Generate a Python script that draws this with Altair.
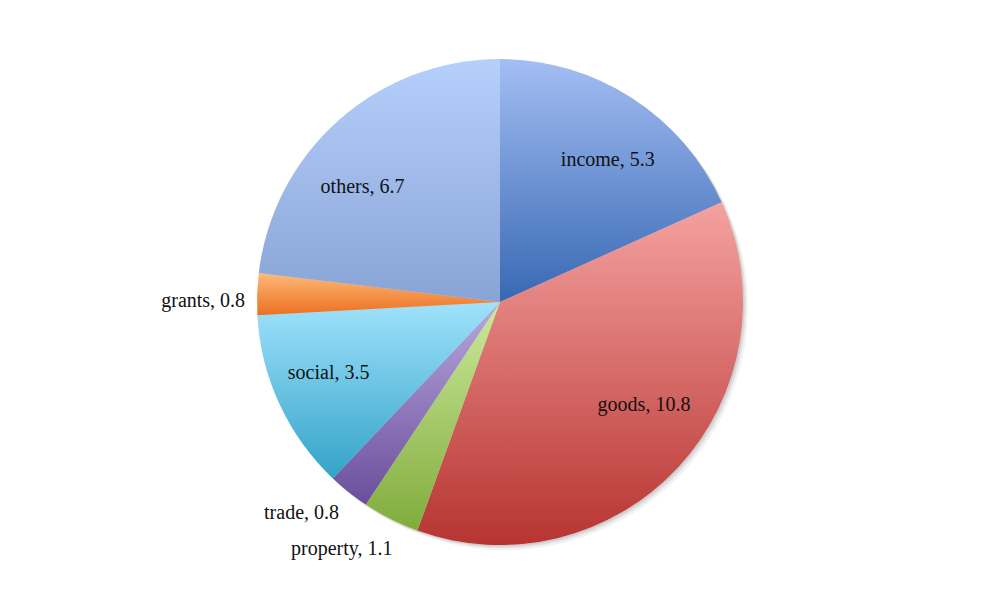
import altair as alt
import pandas as pd

categories = ["income", "goods", "property", "trade", "social", "grants", "others"]
values = [5.3, 10.8, 1.1, 0.8, 3.5, 0.8, 6.7]
labels = ["income, 5.3", "goods, 10.8", "property, 1.1", "trade, 0.8",
          "social, 3.5", "grants, 0.8", "others, 6.7"]

top_colors = ["#a3bef3", "#f5a2a0", "#cde99c", "#b9a8dd", "#a0e2fc", "#fdb97a", "#b6d0fc"]
bottom_colors = ["#3868b3", "#b73431", "#80ac3c", "#6a4e9b", "#33a3c8", "#ec7020", "#88a4d6"]

# label placement style: (radius, dx, dy)
label_style = {
    "income": (180, 10, 9),
    "goods": (180, 12, -19),
    "property": (290, -28, -12),
    "trade": (290, -18, -16),
    "social": (180, -8, -5),
    "grants": (290, -7, 8),
    "others": (180, -18, 20),
}

total = sum(values)
df = pd.DataFrame({"category": categories, "value": values, "label": labels,
                   "order": list(range(len(categories)))})

base = alt.Chart(df).transform_window(
    end="sum(value)", sort=[alt.SortField("order")], frame=[None, 0]
).transform_calculate(
    start="datum.end - datum.value",
    mid="datum.end - datum.value / 2",
)

theta_scale = alt.Scale(domain=[0, total], zero=True, nice=False)

layers = []

# soft shadow
for off, op in [(5, 0.05), (3, 0.07), (1.5, 0.08)]:
    layers.append(
        base.mark_arc(radius=243, fill="#000000", opacity=op, xOffset=off, yOffset=off).encode(
            theta=alt.Theta("start:Q", scale=theta_scale, stack=False),
            theta2="end:Q",
        )
    )

for cat, c1, c2 in zip(categories, top_colors, bottom_colors):
    grad = alt.LinearGradient(
        gradient="linear", x1=0, y1=0, x2=0, y2=1,
        stops=[alt.GradientStop(color=c1, offset=0), alt.GradientStop(color=c2, offset=1)],
    )
    layers.append(
        base.transform_filter(alt.datum.category == cat)
        .mark_arc(radius=243, fill=grad, strokeWidth=0)
        .encode(
            theta=alt.Theta("start:Q", scale=theta_scale, stack=False),
            theta2="end:Q",
        )
    )

for cat in categories:
    r, dx, dy = label_style[cat]
    layers.append(
        base.transform_filter(alt.datum.category == cat)
        .mark_text(radius=r, dx=dx, dy=dy, font="Liberation Serif", fontSize=20,
                   color="#111111", align="center", baseline="middle")
        .encode(
            theta=alt.Theta("mid:Q", scale=theta_scale, stack=False),
            text="label:N",
        )
    )

chart = alt.layer(*layers).properties(
    width=984, height=588, padding=0, background="#ffffff"
).configure_view(stroke=None)

chart.save("out.html", embed_options={"renderer": "svg", "actions": False})
